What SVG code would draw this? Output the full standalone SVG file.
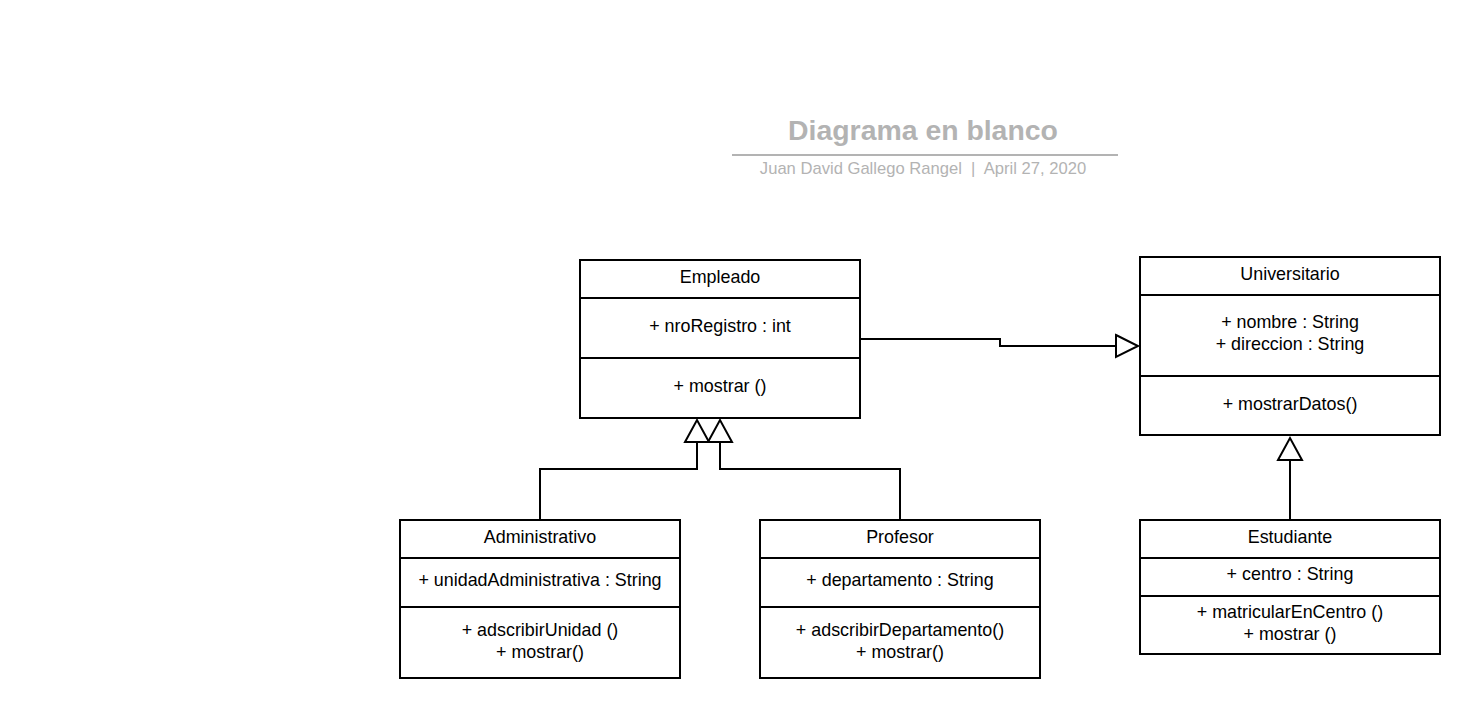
<svg xmlns="http://www.w3.org/2000/svg" width="1480" height="718" viewBox="0 0 1480 718">
<style>
.box{fill:#fff;stroke:#000;stroke-width:2}
.ln{stroke:#000;stroke-width:2;fill:none}
.t{font-family:"Liberation Sans",Arial,sans-serif;font-size:17.9px;fill:#000;text-anchor:middle}
.conn{stroke:#000;stroke-width:2;fill:none}
.tri{fill:#fff;stroke:#000;stroke-width:2}
</style>
<rect width="1480" height="718" fill="#fff"/>
<g id="title">
<text x="923" y="140" font-family="Liberation Sans,Arial,sans-serif" font-size="28.4" font-weight="bold" fill="#b3b3b3" text-anchor="middle">Diagrama en blanco</text>
<line x1="732" y1="155" x2="1118" y2="155" stroke="#b3b3b3" stroke-width="2"/>
<text x="923" y="174" font-family="Liberation Sans,Arial,sans-serif" font-size="16.6" fill="#b3b3b3" text-anchor="middle" xml:space="preserve">Juan David Gallego Rangel  |  April 27, 2020</text>
</g>
<g id="connectors">
<polyline class="conn" points="860,339 1000,339 1000,346 1116,346"/>
<polygon class="tri" points="1116,335 1138,346 1116,357"/>
<polyline class="conn" points="540,520 540,469 697,469 697,442"/>
<polygon class="tri" points="685,442 697,420 709,442"/>
<polyline class="conn" points="900,520 900,469 720,469 720,442"/>
<polygon class="tri" points="708,442 720,420 732,442"/>
<polyline class="conn" points="1290,520 1290,460"/>
<polygon class="tri" points="1278,460 1290,438 1302,460"/>
</g>
<g id="Empleado">
<rect class="box" x="580" y="260" width="280" height="158"/>
<line class="ln" x1="580" y1="298" x2="860" y2="298"/>
<line class="ln" x1="580" y1="358" x2="860" y2="358"/>
<text class="t" x="720" y="283">Empleado</text>
<text class="t" x="720" y="332">+ nroRegistro : int</text>
<text class="t" x="720" y="392">+ mostrar ()</text>
</g>
<g id="Universitario">
<rect class="box" x="1140" y="257" width="300" height="178"/>
<line class="ln" x1="1140" y1="295" x2="1440" y2="295"/>
<line class="ln" x1="1140" y1="376" x2="1440" y2="376"/>
<text class="t" x="1290" y="280">Universitario</text>
<text class="t" x="1290" y="328">+ nombre : String</text>
<text class="t" x="1290" y="350">+ direccion : String</text>
<text class="t" x="1290" y="410">+ mostrarDatos()</text>
</g>
<g id="Administrativo">
<rect class="box" x="400" y="520" width="280" height="158"/>
<line class="ln" x1="400" y1="558" x2="680" y2="558"/>
<line class="ln" x1="400" y1="607" x2="680" y2="607"/>
<text class="t" x="540" y="543">Administrativo</text>
<text class="t" x="540" y="586">+ unidadAdministrativa : String</text>
<text class="t" x="540" y="636">+ adscribirUnidad ()</text>
<text class="t" x="540" y="658">+ mostrar()</text>
</g>
<g id="Profesor">
<rect class="box" x="760" y="520" width="280" height="158"/>
<line class="ln" x1="760" y1="558" x2="1040" y2="558"/>
<line class="ln" x1="760" y1="607" x2="1040" y2="607"/>
<text class="t" x="900" y="543">Profesor</text>
<text class="t" x="900" y="586">+ departamento : String</text>
<text class="t" x="900" y="636">+ adscribirDepartamento()</text>
<text class="t" x="900" y="658">+ mostrar()</text>
</g>
<g id="Estudiante">
<rect class="box" x="1140" y="520" width="300" height="134"/>
<line class="ln" x1="1140" y1="558" x2="1440" y2="558"/>
<line class="ln" x1="1140" y1="596" x2="1440" y2="596"/>
<text class="t" x="1290" y="543">Estudiante</text>
<text class="t" x="1290" y="580">+ centro : String</text>
<text class="t" x="1290" y="618">+ matricularEnCentro ()</text>
<text class="t" x="1290" y="640">+ mostrar ()</text>
</g>
</svg>
